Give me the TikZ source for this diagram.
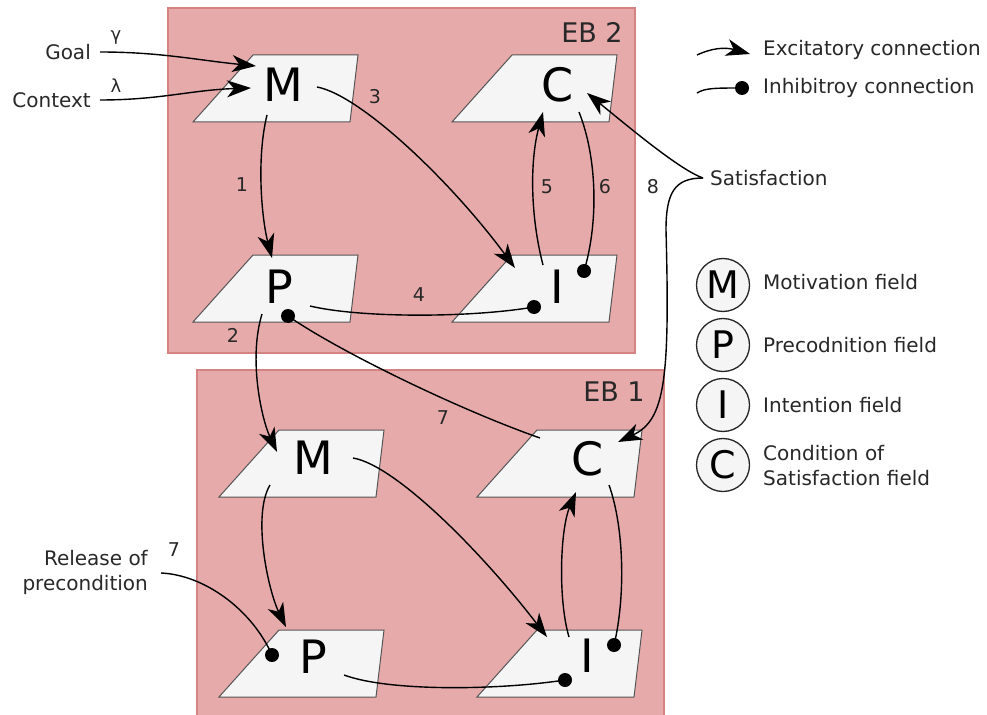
\documentclass[tikz,border=0pt]{standalone}
\usepackage{fontspec}
\setmainfont{DejaVu Sans}
\usetikzlibrary{arrows.meta,calc}
\definecolor{ebfill}{RGB}{230,170,170}
\definecolor{ebline}{RGB}{212,130,130}
\definecolor{fieldfill}{RGB}{245,245,245}
\definecolor{fieldline}{RGB}{85,85,85}
\definecolor{txt}{RGB}{40,40,40}
\newcommand\fieldat[2]{\draw[fieldshape] (#1,#2) -- ++(60,-67) -- ++(105,0) -- ++(-8,67) -- cycle;}
\begin{document}
\begin{tikzpicture}[x=1bp,y=-1bp,
 exc/.style={line width=1.4bp, -{Stealth[length=24bp,width=17bp,inset=7bp]}},
 inh/.style={line width=1.4bp},
 lbl/.style={font=\fontsize{20bp}{25bp}\selectfont, text=txt, inner sep=0pt},
 num/.style={font=\fontsize{19bp}{22bp}\selectfont, text=txt, inner sep=0pt},
 greek/.style={font=\fontsize{18bp}{20bp}\selectfont, text=txt, inner sep=0pt},
 big/.style={font=\fontsize{46bp}{50bp}\selectfont, inner sep=0pt},
 eblbl/.style={font=\fontsize{27bp}{30bp}\selectfont, text=txt, inner sep=0pt},
 ebbox/.style={fill=ebfill, draw=ebline, line width=1.3bp},
 fieldshape/.style={fill=fieldfill, draw=fieldline, line width=1bp},
 legcirc/.style={circle, draw=black!85, line width=1.3bp, fill=fieldfill, minimum size=53bp, inner sep=0pt, font=\fontsize{38bp}{40bp}\selectfont},
 ]
\useasboundingbox (0,0) rectangle (987,715);
\begin{scope}
\clip (0,0) rectangle (987,715);
\draw[ebbox] (168,8) rectangle (635,353);
\draw[ebbox] (197,370) rectangle (664,730);
\end{scope}

\fieldat{193}{122} \fieldat{452}{122} \fieldat{193}{322} \fieldat{452}{322}
\fieldat{219}{497} \fieldat{477}{497} \fieldat{219}{697} \fieldat{477}{697}

\node[big] (M2) at (283,85) {M};
\node[big] (C2) at (558,85) {C};
\node[big] (P2) at (279,287) {P};
\node[big] (I2) at (557,287) {I};
\node[big] (M1) at (313,458) {M};
\node[big] (C1) at (588,459) {C};
\node[big] (P1) at (313,657) {P};
\node[big] (I1) at (587,656) {I};

\node[eblbl] (eb2) at (592,32) {EB 2};
\node[eblbl] (eb1) at (614,392) {EB 1};

% inputs
\node[lbl, anchor=east] (goal) at (91,52) {Goal};
\node[lbl, anchor=east] (ctx) at (91,100) {Context};
\node[greek] (gam) at (116,37) {γ};
\node[greek] (lam) at (116,86) {λ};
\draw[exc] ($(goal.east)+(9,0)$) .. controls +(60,0) and +(-60,-6) .. ($(M2)+(-27,-19)$);
\draw[exc] ($(ctx.east)+(9,0)$) .. controls +(60,0) and +(-60,2) .. ($(M2)+(-32,3)$);

% EB2 connections
\draw[exc] ($(M2)+(-16,30)$) .. controls (256,160) and (262,220) .. ($(P2)+(-7,-29)$);
\draw[exc] ($(M2)+(34,2)$) .. controls (360,95) and (450,180) .. ($(I2)+(-42,-19)$);
\draw[exc] ($(I2)+(-14,-22)$) .. controls (530,215) and (530,160) .. ($(C2)+(-15,27)$);
\coordinate (d6) at ($(I2)+(27,-16)$);
\draw[inh] ($(C2)+(21,27)$) .. controls (598,160) and (598,225) .. (d6);
\fill (d6) circle (7);
\coordinate (d4) at ($(I2)+(-23,20)$);
\draw[inh] ($(P2)+(31,19)$) .. controls (360,318) and (470,318) .. (d4);
\fill (d4) circle (7);

% between blocks
\draw[exc] ($(P2)+(-17,27)$) .. controls (248,360) and (262,420) .. ($(M1)+(-36,-6)$);
\coordinate (d7) at ($(P2)+(9,29)$);
\draw[inh] ($(C1)+(-48,-21)$) .. controls (460,410) and (340,352) .. (d7);
\fill (d7) circle (7);

% EB1 connections
\draw[exc] ($(M1)+(-43,27)$) .. controls (252,515) and (268,590) .. ($(P1)+(-27,-30)$);
\draw[exc] ($(M1)+(40,0)$) .. controls (395,465) and (480,550) .. ($(I1)+(-40,-19)$);
\draw[exc] ($(I1)+(-18,-19)$) .. controls (558,600) and (560,530) .. ($(C1)+(-12,33)$);
\coordinate (d16) at ($(I1)+(27,-11)$);
\draw[inh] ($(C1)+(21,26)$) .. controls (625,530) and (625,600) .. (d16);
\fill (d16) circle (7);
\coordinate (d14) at ($(I1)+(-22,24)$);
\draw[inh] ($(P1)+(31,18)$) .. controls (390,692) and (500,690) .. (d14);
\fill (d14) circle (7);

% release of precondition
\node[lbl, anchor=east, align=right] (rel) at (148,572) {Release of\\precondition};
\coordinate (d11) at ($(P1)+(-41,-2)$);
\draw[inh] ($(rel.east)+(13,1)$) .. controls (205,575) and (252,610) .. (d11);
\fill (d11) circle (7);

% satisfaction
\node[lbl, anchor=west] (sat) at (710,178) {Satisfaction};
\coordinate (fork) at ($(sat.west)+(-7,0)$);
\draw[exc] (fork) .. controls (680,170) and (630,128) .. ($(C2)+(29,8)$);
\coordinate (bend) at (666,230);
\draw[exc] (fork) .. controls (675,178) and (666,192) .. (bend) .. controls (670,380) and (665,420) .. ($(C1)+(30,-17)$);

% numbers
\node[num] (n1) at (242,185) {1};
\node[num] (n2) at (233,335) {2};
\node[num] (n3) at (375,97) {3};
\node[num] (n4) at (419,295) {4};
\node[num] (n5) at (547,187) {5};
\node[num] (n6) at (605,187) {6};
\node[num] (n7) at (443,418) {7};
\node[num] (n8) at (653,187) {8};
\node[num] (n7b) at (174,550) {7};

% legend
\node[lbl, anchor=west] (lexc) at (763,50) {Excitatory connection};
\node[lbl, anchor=west] (linh) at (763,88) {Inhibitroy connection};
\draw[exc] (697,55) .. controls (712,48) and (725,47) .. (750,54);
\coordinate (dl) at (742,88);
\draw[inh] (697,93) .. controls (705,88) and (715,88) .. (dl);
\fill (dl) circle (7);

\node[legcirc] (lm) at (723,285) {M};
\node[legcirc] (lp) at (723,345) {P};
\node[legcirc] (li) at (723,405) {I};
\node[legcirc] (lc) at (723,465) {C};
\node[lbl, anchor=west] (tm) at (763,282) {Motivation field};
\node[lbl, anchor=west] (tp) at (763,345) {Precodnition field};
\node[lbl, anchor=west] (ti) at (763,405) {Intention field};
\node[lbl, anchor=west, align=left] (tc) at (763,466) {Condition of\\Satisfaction field};
\end{tikzpicture}
\end{document}
